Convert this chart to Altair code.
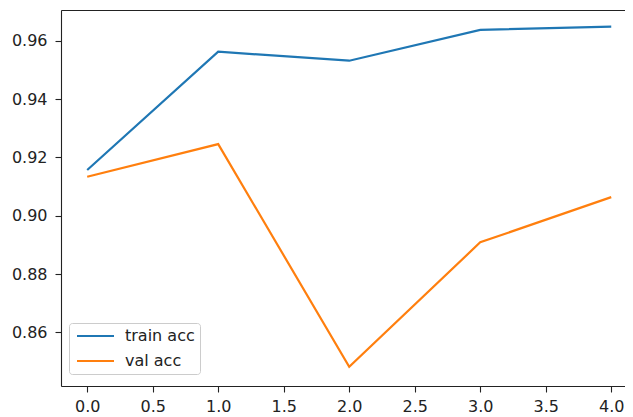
import altair as alt
import pandas as pd

epochs = [0, 1, 2, 3, 4]
train_acc = [0.9157, 0.9563, 0.9532, 0.9638, 0.9649]
val_acc = [0.9134, 0.9246, 0.8482, 0.8909, 0.9064]
series_names = ["train acc", "val acc"]
series_colors = ["#1f77b4", "#ff7f0e"]
x_ticks = [0.0, 0.5, 1.0, 1.5, 2.0, 2.5, 3.0, 3.5, 4.0]
y_ticks = [0.86, 0.88, 0.90, 0.92, 0.94, 0.96]

rows = []
for e, v in zip(epochs, train_acc):
    rows.append({"epoch": e, "acc": v, "series": series_names[0]})
for e, v in zip(epochs, val_acc):
    rows.append({"epoch": e, "acc": v, "series": series_names[1]})
df = pd.DataFrame(rows)

font = "DejaVu Sans"
fs = 16

x_scale = alt.Scale(domain=[-0.2, 4.105], nice=False, zero=False)
y_scale = alt.Scale(domain=[0.8416, 0.9706], nice=False, zero=False)

lines = alt.Chart(df).mark_line(strokeWidth=2.2).encode(
    x=alt.X("epoch:Q", scale=x_scale,
            axis=alt.Axis(values=x_ticks, format=".1f", title=None, orient="bottom",
                          grid=False, tickSize=6, tickColor="#222", domainColor="#222",
                          labelFontSize=fs, labelFont=font, labelColor="#222",
                          labelPadding=6, tickWidth=1.1, domainWidth=1.1)),
    y=alt.Y("acc:Q", scale=y_scale,
            axis=alt.Axis(values=y_ticks, format=".2f", title=None, orient="left",
                          grid=False, tickSize=6, tickColor="#222", domainColor="#222",
                          labelFontSize=fs, labelFont=font, labelColor="#222",
                          labelPadding=8, tickWidth=1.1, domainWidth=1.1)),
    color=alt.Color("series:N",
                    scale=alt.Scale(domain=series_names, range=series_colors),
                    legend=alt.Legend(orient="none", legendX=8, legendY=313, title=None,
                                      symbolType="M-1,0H6.4", symbolSize=100,
                                      symbolStrokeWidth=2.2, labelFontSize=fs, labelFont=font,
                                      labelColor="#222", labelOffset=35,
                                      fillColor="rgba(255,255,255,0.8)", strokeColor="#cccccc",
                                      cornerRadius=3, padding=5, rowPadding=9)),
)

top_spine = alt.Chart(df).mark_line(strokeOpacity=0).encode(
    x=alt.X("epoch:Q", scale=x_scale,
            axis=alt.Axis(orient="top", labels=False, ticks=False, grid=False, title=None,
                          domainColor="#222", domainWidth=1.1)),
    y=alt.Y("acc:Q", scale=y_scale),
    detail="series:N",
)

chart = alt.layer(lines, top_spine).resolve_axis(x="independent").properties(
    width=564, height=376,
    autosize=alt.AutoSizeParams(type="none"),
    padding={"left": 53, "top": 2, "right": 0, "bottom": 28},
).configure_view(stroke=None).configure(background="white")

chart.save("out.html", embed_options={"renderer": "svg", "actions": False})
